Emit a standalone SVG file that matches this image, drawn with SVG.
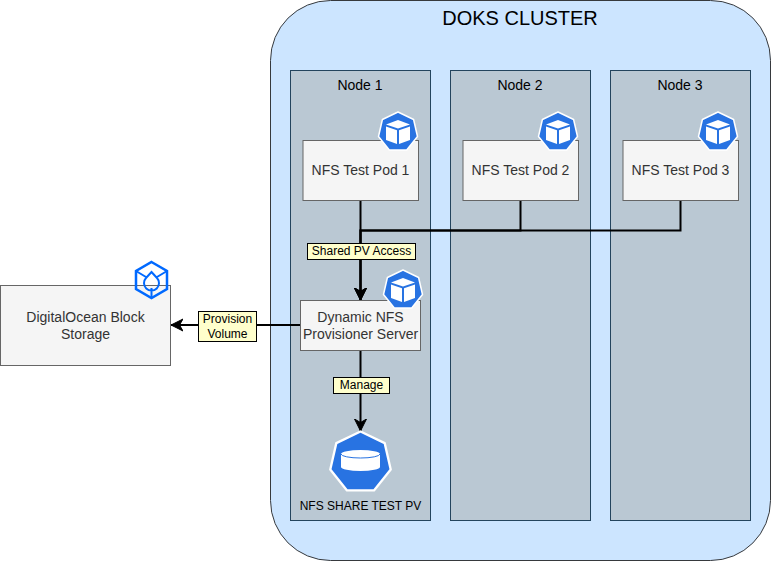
<svg xmlns="http://www.w3.org/2000/svg" width="771" height="561" viewBox="0 0 771 561">
<style>
text{font-family:"Liberation Sans",Arial,sans-serif;text-anchor:middle}
.node{fill:#bac8d3;stroke:#23445d}
.box{fill:#f5f5f5;stroke:#666}
.t{font-size:14px;fill:#333}
.h{font-size:14px;fill:#000}
.c{fill:none;stroke:#000;stroke-width:2}
.lab{fill:#ffc;stroke:#000}
.l{font-size:12px;fill:#000}
</style>
<defs>
<marker id="a" markerUnits="userSpaceOnUse" markerWidth="14" markerHeight="14" refX="12" refY="7" orient="auto"><path d="M0 1L12 7L0 13L3.5 7Z" fill="#000" stroke="#000"/></marker>
<polygon id="hept" points="0,-20 15.6,-12.5 19.5,4.5 8.7,18 -8.7,18 -19.5,4.5 -15.6,-12.5" fill="#2873e2" stroke="#fff" stroke-width="1.5" stroke-linejoin="round"/>
<g id="pod">
<use href="#hept"/>
<path d="M0-12L12-7.500L0-3.500L-12-7.500Z" fill="#fff"/>
<path d="M-12-5.500L-1-1.700V12L-12 8Z" fill="#fff"/>
<path d="M12-5.500L1-1.700V12L12 8Z" fill="#fff"/>
</g>
</defs>
<rect x="270.500" y="0.500" width="500" height="560" rx="60" fill="#cce5ff" stroke="#36393d"/>
<text x="520" y="25" font-size="20" fill="#000">DOKS CLUSTER</text>
<g id="node1"><rect class="node" x="290.500" y="70.500" width="140" height="450"/><text class="h" x="360" y="90">Node 1</text></g>
<g id="node2"><rect class="node" x="450.500" y="70.500" width="140" height="450"/><text class="h" x="520" y="90">Node 2</text></g>
<g id="node3"><rect class="node" x="610.500" y="70.500" width="140" height="450"/><text class="h" x="680" y="90">Node 3</text></g>
<g id="connectors">
<path class="c" d="M360.500 200V300" marker-end="url(#a)"/>
<path class="c" d="M520.500 200V230.500H360.500V300" marker-end="url(#a)"/>
<path class="c" d="M680.500 200V230.500H360.500V300" marker-end="url(#a)"/>
<path class="c" d="M300.500 325H171" marker-end="url(#a)"/>
<path class="c" d="M360.500 350V431" marker-end="url(#a)"/>
<rect class="lab" x="307.500" y="243.500" width="108" height="16"/><text class="l" x="361.500" y="255">Shared PV Access</text>
<rect class="lab" x="198.500" y="311.500" width="58" height="30"/><text class="l" x="227.500" y="323">Provision</text><text class="l" x="227.500" y="338">Volume</text>
<rect class="lab" x="333.500" y="377.500" width="56" height="16"/><text class="l" x="361.500" y="389">Manage</text>
</g>
<g id="pod1"><rect class="box" x="303" y="140.500" width="115.500" height="60"/><text class="t" x="360.500" y="175">NFS Test Pod 1</text><use href="#pod" x="398" y="132"/></g>
<g id="pod2"><rect class="box" x="463" y="140.500" width="115.500" height="60"/><text class="t" x="520.500" y="175">NFS Test Pod 2</text><use href="#pod" x="558" y="132"/></g>
<g id="pod3"><rect class="box" x="623" y="140.500" width="115.500" height="60"/><text class="t" x="680.500" y="175">NFS Test Pod 3</text><use href="#pod" x="718" y="132"/></g>
<g id="provisioner"><rect class="box" x="300.500" y="300.500" width="120" height="50"/><text class="t" x="360.500" y="322">Dynamic NFS</text><text class="t" x="360.500" y="339">Provisioner Server</text><use href="#pod" x="403" y="290"/></g>
<g id="block"><rect class="box" x="0.500" y="285.500" width="170" height="80"/><text class="t" x="85.500" y="322">DigitalOcean Block</text><text class="t" x="85.500" y="339">Storage</text>
<path d="M151.500 262L167 271V289L151.500 298L136 289V271Z" fill="none" stroke="#0069ff" stroke-width="2.500"/>
<path d="M151.500 272L157 278A7.500 7.500 0 1 1 146 278Z M136 271L146 277M167 271L157 277M151.500 288V298" fill="none" stroke="#0069ff" stroke-width="2"/>
</g>
<g id="pv"><use href="#hept" transform="translate(360.500 462.500) scale(1.550)"/>
<path d="M341 454A19.500 4 0 0 1 380 454V467A19.500 4 0 0 1 341 467Z" fill="#fff"/>
<path d="M341 454A19.500 4 0 0 0 380 454" fill="none" stroke="#2873e2" stroke-width="1"/>
<text x="360.500" y="510" font-size="12" fill="#000">NFS SHARE TEST PV</text></g>
</svg>
